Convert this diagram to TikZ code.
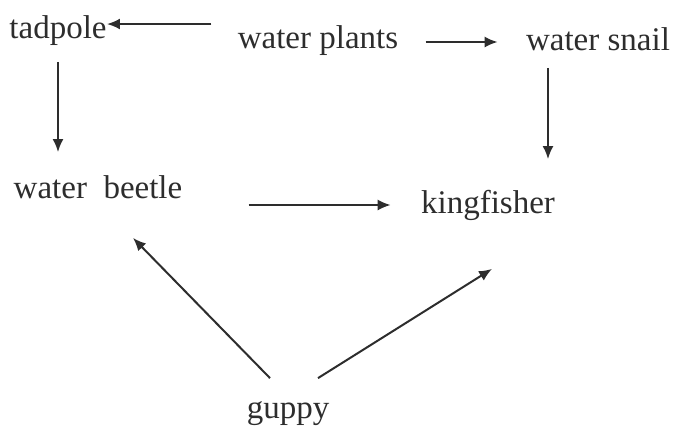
\documentclass[tikz,border=0pt]{standalone}
\usepackage{fontspec}
\setmainfont{Liberation Serif}
\usetikzlibrary{arrows.meta}
\definecolor{inkgray}{RGB}{45, 45, 45}

\begin{document}
\begin{tikzpicture}[x=0.5pt,y=-0.5pt,
    species/.style={inner sep=0pt,text height=12pt,text depth=3.5pt,text=inkgray,font=\fontsize{16.5}{19}\selectfont},
    arr/.style={-{Latex[length=6.5pt,width=5.5pt]},line width=1pt,inkgray}]
                \useasboundingbox (0,0) rectangle (674,436);
                \node[species] (tadpole) at (58,30) {tadpole};
                \node[species] (plants) at (318,40) {water plants};
                \node[species] (snail) at (598,42) {water snail};
                \node[species] (beetle) at (98,190) {water\enspace beetle};
                \node[species] (king) at (488,205) {kingfisher};
                \node[species] (guppy) at (288,410) {guppy};
                \draw[arr,shorten <=13pt] ([yshift=8pt]plants.west) -- ([yshift=3pt]tadpole.east);
                \draw[arr,shorten <=13.5pt,shorten >=14pt] ([yshift=-1pt]plants.east) -- (snail.west);
                \draw[arr,shorten <=8pt,shorten >=11pt] (tadpole.south) -- (tadpole.south |- beetle.north);
                \draw[arr,shorten <=5pt,shorten >=15pt] ([xshift=-25pt]snail.south) -- ([xshift=-25pt]snail.south |- king.north);
                \draw[arr,shorten <=33pt,shorten >=15pt] ([yshift=-7.5pt]beetle.east) -- (king.west);
                \draw[arr] ([xshift=-9pt,yshift=8pt]guppy.north) -- ([xshift=17.5pt,yshift=-16pt]beetle.south);
                \draw[arr] ([xshift=15pt,yshift=8pt]guppy.north) -- ([xshift=2pt,yshift=-24pt]king.south);
            \end{tikzpicture}
\end{document}
